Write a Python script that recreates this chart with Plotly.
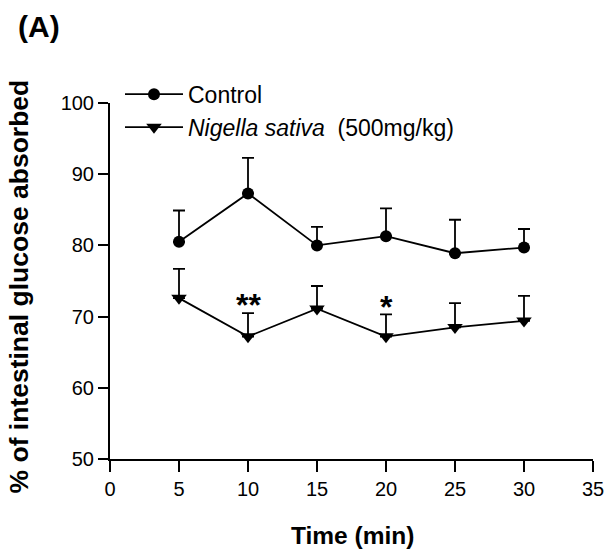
import plotly.graph_objects as go

time_min = [5, 10, 15, 20, 25, 30]
control_mean = [80.5, 87.3, 80.0, 81.3, 78.9, 79.7]
control_sem = [4.4, 5.0, 2.6, 3.9, 4.7, 2.6]
nigella_mean = [72.6, 67.2, 71.1, 67.2, 68.5, 69.4]
nigella_sem = [4.1, 3.3, 3.2, 3.1, 3.4, 3.5]
sig_times = [10, 20]
sig_labels = ["**", "*"]
sig_y = [71.6, 71.4]

FONT = "Liberation Sans, Arial, sans-serif"

fig = go.Figure()
fig.add_trace(go.Scatter(
    x=time_min, y=control_mean, mode="lines+markers", name="Control",
    line=dict(color="black", width=1.8),
    marker=dict(symbol="circle", size=12, color="black"),
    error_y=dict(type="data", array=control_sem, arrayminus=[0]*6, symmetric=False,
                 color="black", thickness=1.8, width=6),
))
fig.add_trace(go.Scatter(
    x=time_min, y=nigella_mean, mode="lines+markers",
    name="<i>Nigella sativa</i>  (500mg/kg)",
    line=dict(color="black", width=1.8),
    marker=dict(symbol="triangle-down", size=13.5, color="black"),
    error_y=dict(type="data", array=nigella_sem, arrayminus=[0]*6, symmetric=False,
                 color="black", thickness=1.8, width=6),
))

for t, lab, yv in zip(sig_times, sig_labels, sig_y):
    fig.add_annotation(x=t, y=yv, text=f"<b>{lab}</b>", showarrow=False,
                       font=dict(size=32, color="black", family=FONT),
                       xanchor="center", yanchor="middle")

fig.add_annotation(xref="paper", yref="paper", x=-0.1946, y=1.215, text="<b>(A)</b>",
                   showarrow=False, xanchor="left", yanchor="middle",
                   font=dict(size=30, color="black", family=FONT))

fig.add_annotation(xref="paper", yref="paper", x=-0.1884, y=0.4846,
                   text="<b>% of intestinal glucose absorbed</b>", textangle=-90,
                   showarrow=False, xanchor="center", yanchor="middle",
                   font=dict(size=26.5, color="black", family=FONT))

fig.add_annotation(xref="paper", yref="paper", x=0.502, y=-0.2135,
                   text="<b>Time (min)</b>",
                   showarrow=False, xanchor="center", yanchor="middle",
                   font=dict(size=24.5, color="black", family=FONT))

fig.update_layout(
    width=607, height=553,
    margin=dict(l=110, r=14, t=103, b=94),
    paper_bgcolor="white", plot_bgcolor="white",
    font=dict(family=FONT, color="black", size=20),
    showlegend=True,
    legend=dict(x=0.0207, y=1.085, xanchor="left", yanchor="top",
                font=dict(size=23, family=FONT, color="black"),
                bgcolor="rgba(0,0,0,0)", tracegroupgap=0, itemwidth=58),
    xaxis=dict(range=[0, 35], tickvals=[0, 5, 10, 15, 20, 25, 30, 35],
               showline=True, linecolor="black", linewidth=2,
               ticks="outside", ticklen=11, tickwidth=2, tickcolor="black",
               showgrid=False, zeroline=False, automargin=False,
               ticklabeloverflow="allow",
               tickfont=dict(size=20)),
    yaxis=dict(range=[50, 100], tickvals=[50, 60, 70, 80, 90, 100],
               showline=True, linecolor="black", linewidth=2,
               ticks="outside", ticklen=10, tickwidth=2, tickcolor="black",
               showgrid=False, zeroline=False, automargin=False,
               tickfont=dict(size=20)),
)

fig.write_html("out.html", config={"displayModeBar": False},
               post_script="document.body.style.margin='0';document.body.style.overflow='hidden';")
